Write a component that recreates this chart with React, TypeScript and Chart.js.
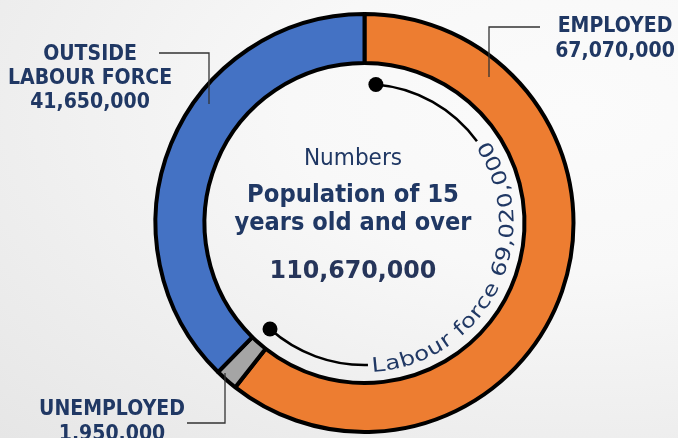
import React, { useEffect, useRef } from 'react';
import { Chart, registerables } from 'chart.js';

Chart.register(...registerables);

// ---- Data ----
const categories = ['Employed', 'Unemployed', 'Outside labour force'];
const values = [67070000, 1950000, 41650000];
const sliceColors = ['#ED7D31', '#A5A5A5', '#4472C4'];
const labelTitles = [['EMPLOYED'], ['UNEMPLOYED'], ['OUTSIDE', 'LABOUR FORCE']];
const centerTitle = ['Numbers', 'Population of 15', 'years old and over'];
const labourForceTitle = 'Labour force';

const fmt = (v: number) => v.toLocaleString('en-US');

const NAVY = '#203864';
const FONT = '"DejaVu Sans", sans-serif';

const deg2rad = (d: number) => (d * Math.PI) / 180;

function drawText(
  ctx: CanvasRenderingContext2D,
  text: string,
  x: number,
  y: number,
  font: string,
  sx: number
) {
  ctx.save();
  ctx.font = font;
  ctx.translate(x, y);
  ctx.scale(sx, 1);
  ctx.fillText(text, 0, 0);
  ctx.restore();
}

const annotationPlugin = {
  id: 'annotations',
  afterDraw(chart: any) {
    const ctx: CanvasRenderingContext2D = chart.ctx;
    const arc = chart.getDatasetMeta(0).data[0];
    if (!arc) return;
    const cx = arc.x;
    const cy = arc.y;
    const total = values.reduce((a, b) => a + b, 0);
    const labour = values[0] + values[1];
    const labourDeg = (labour / total) * 360;
    const pt = (deg: number, r: number) => [
      cx + r * Math.sin(deg2rad(deg)),
      cy - r * Math.cos(deg2rad(deg)),
    ];

    ctx.save();

    // ---- Leader lines ----
    ctx.strokeStyle = '#333333';
    ctx.lineWidth = 1.3;
    const leaders = [
      [[540, 27], [489, 27], [489, 77]],
      [[187, 423], [225, 423], [225, 373]],
      [[159, 53], [209, 53], [209, 104]],
    ];
    leaders.forEach((pts) => {
      ctx.beginPath();
      ctx.moveTo(pts[0][0], pts[0][1]);
      for (let i = 1; i < pts.length; i++) ctx.lineTo(pts[i][0], pts[i][1]);
      ctx.stroke();
    });

    // ---- Outer labels ----
    ctx.fillStyle = NAVY;
    ctx.textAlign = 'center';
    ctx.textBaseline = 'alphabetic';
    const labelFont = `bold 22px ${FONT}`;
    const labelPos = [
      { x: 615, ys: [32, 57] },
      { x: 112, ys: [415, 440] },
      { x: 90, ys: [60, 84, 108] },
    ];
    labelTitles.forEach((lines, i) => {
      const all = [...lines, fmt(values[i])];
      all.forEach((t, j) => drawText(ctx, t, labelPos[i].x, labelPos[i].ys[j], labelFont, 0.86));
    });

    // ---- Center text ----
    const tx = 353;
    drawText(ctx, centerTitle[0], tx, 165, `23px ${FONT}`, 0.94);
    drawText(ctx, centerTitle[1], tx, 202, `bold 24px ${FONT}`, 0.95);
    drawText(ctx, centerTitle[2], tx, 230, `bold 24px ${FONT}`, 0.94);
    ctx.fillStyle = '#26355A';
    drawText(ctx, fmt(total), tx, 278, `bold 25px ${FONT}`, 0.95);

    // ---- Labour force bracket ----
    const startDeg = 4.7;
    const endDeg = labourDeg - 2.8;
    ctx.strokeStyle = '#000';
    ctx.fillStyle = '#000';
    ctx.lineWidth = 2.5;
    ctx.beginPath();
    ctx.arc(cx, cy, 139, deg2rad(startDeg - 90), deg2rad(54 - 90));
    ctx.stroke();
    ctx.beginPath();
    ctx.arc(cx, cy, 142, deg2rad(178.6 - 90), deg2rad(endDeg - 90));
    ctx.stroke();
    const d1 = pt(startDeg, 139);
    const d2 = pt(endDeg, 142);
    [d1, d2].forEach((p) => {
      ctx.beginPath();
      ctx.arc(p[0], p[1], 7.5, 0, Math.PI * 2);
      ctx.fill();
    });

    // ---- Curved text ----
    const text = `${labourForceTitle} ${fmt(labour)}`;
    ctx.font = `20px ${FONT}`;
    ctx.fillStyle = NAVY;
    ctx.textAlign = 'center';
    const sx = 1.22;
    const rb = 149;
    const fromDeg = 177;
    const toDeg = 56;
    const chars = Array.from(text);
    const widths = chars.map((c) => ctx.measureText(c).width * sx);
    const totalW = widths.reduce((a, b) => a + b, 0);
    const avail = deg2rad(fromDeg - toDeg) * rb;
    const gap = (avail - totalW) / (chars.length - 1);
    let cur = deg2rad(fromDeg);
    chars.forEach((c, i) => {
      const w = widths[i];
      const th = cur - w / 2 / rb;
      const x = cx + rb * Math.sin(th);
      const y = cy - rb * Math.cos(th);
      ctx.save();
      ctx.translate(x, y);
      ctx.rotate(th + Math.PI);
      ctx.scale(sx, 1);
      ctx.fillText(c, 0, 0);
      ctx.restore();
      cur -= (w + gap) / rb;
    });

    ctx.restore();
  },
};

export default function App() {
  const canvasRef = useRef<HTMLCanvasElement | null>(null);

  useEffect(() => {
    document.body.style.margin = '0';
    const canvas = canvasRef.current;
    if (!canvas) return;
    const chart = new Chart(canvas, {
      type: 'doughnut',
      data: {
        labels: categories,
        datasets: [
          {
            data: values,
            backgroundColor: sliceColors,
            borderColor: '#000000',
            borderWidth: 4,
            hoverOffset: 0,
          },
        ],
      },
      options: {
        responsive: false,
        animation: false,
        rotation: 0,
        cutout: 160,
        layout: { padding: { left: 153.5, top: 12, right: 102.5, bottom: 4 } },
        plugins: {
          legend: { display: false },
          tooltip: { enabled: false },
        },
        events: [],
      },
      plugins: [annotationPlugin],
    });
    return () => chart.destroy();
  }, []);

  return (
    <div
      style={{
        position: 'absolute',
        left: 0,
        top: 0,
        width: 678,
        height: 438,
        overflow: 'hidden',
        background:
          'radial-gradient(ellipse at 85% 25%, #fbfbfb 0%, #f8f8f8 35%, #eeeeee 70%, #e6e6e6 100%)',
      }}
    >
      <canvas ref={canvasRef} width={678} height={438} style={{ display: 'block' }} />
    </div>
  );
}
